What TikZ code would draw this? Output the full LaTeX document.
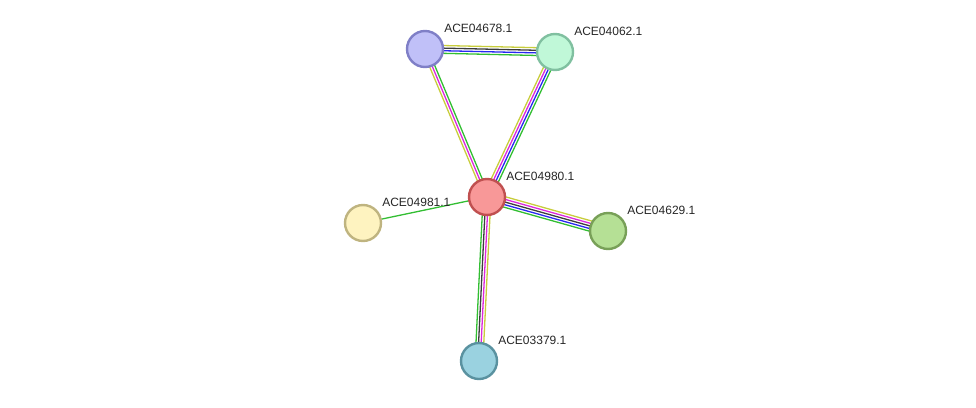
\documentclass[tikz,border=0pt]{standalone}
\usepackage{fontspec}
\setmainfont{Liberation Sans}
\usetikzlibrary{calc,backgrounds}

\definecolor{evtext}{RGB}{200,205,60}
\definecolor{evexp}{RGB}{220,40,220}
\definecolor{evco}{RGB}{60,60,60}
\definecolor{evdb}{RGB}{40,40,240}
\definecolor{evnb}{RGB}{50,190,50}

% parallel coloured lines between two proteins: from, to, count, colours
\newcommand{\bundle}[4]{%
  \foreach \c [count=\i] in {#4} {
    \pgfmathsetmacro{\off}{((#3+1)/2-\i)*2.6}
    \draw[link, \c] ($(#1)!\off pt!90:(#2)$) -- ($(#2)!\off pt!-90:(#1)$);
  }}

\begin{document}
\begin{tikzpicture}[
    x=1pt, y=1pt,
    prot/.style={circle, draw, line width=2.4pt, minimum size=36pt, inner sep=0pt},
    lbl/.style={font=\fontsize{12}{14}\selectfont, text=black!85, inner sep=0pt,
        label distance=5pt, xshift=2pt, yshift=-1pt},
    link/.style={line width=1.3pt}
]
    \useasboundingbox (0,0) rectangle (976,-407);
    \node[prot, fill={rgb,255:red,192;green,192;blue,248}, draw={rgb,255:red,127;green,127;blue,199},
        label={[lbl]45:ACE04678.1}] (p4678) at (425,-49) {};
    \node[prot, fill={rgb,255:red,192;green,248;blue,216}, draw={rgb,255:red,128;green,192;blue,160},
        label={[lbl]45:ACE04062.1}] (p4062) at (555,-52) {};
    \node[prot, fill={rgb,255:red,248;green,152;blue,152}, draw={rgb,255:red,192;green,80;blue,80},
        label={[lbl]45:ACE04980.1}] (p4980) at (487,-197) {};
    \node[prot, fill={rgb,255:red,254;green,243;blue,192}, draw={rgb,255:red,191;green,180;blue,128},
        label={[lbl]45:ACE04981.1}] (p4981) at (363,-223) {};
    \node[prot, fill={rgb,255:red,181;green,224;blue,149}, draw={rgb,255:red,120;green,160;blue,88},
        label={[lbl]45:ACE04629.1}] (p4629) at (608,-231) {};
    \node[prot, fill={rgb,255:red,154;green,210;blue,224}, draw={rgb,255:red,90;green,146;blue,160},
        label={[lbl]45:ACE03379.1}] (p3379) at (479,-361) {};
    \begin{pgfonlayer}{background}
        \bundle{p4678}{p4062}{4}{evtext,evco,evdb,evnb}
        \bundle{p4980}{p4678}{3}{evtext,evexp,evnb}
        \bundle{p4980}{p4062}{4}{evtext,evexp,evdb,evnb}
        \bundle{p4980}{p4629}{5}{evtext,evexp,evco,evdb,evnb}
        \bundle{p4980}{p3379}{4}{evtext,evexp,evco,evnb}
        \bundle{p4980}{p4981}{1}{evnb}
    \end{pgfonlayer}
\end{tikzpicture}
\end{document}
